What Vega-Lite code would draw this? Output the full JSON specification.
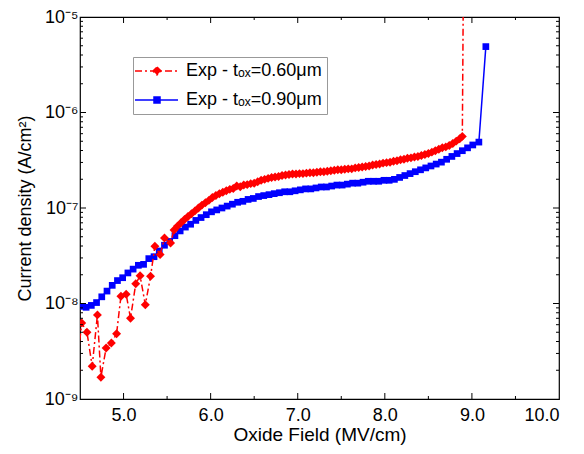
{
  "$schema": "https://vega.github.io/schema/vega-lite/v6.json",
  "width": 479,
  "height": 382,
  "padding": {"left": 16, "top": 8, "right": 20, "bottom": 5},
  "background": "white",
  "config": {
    "view": {"stroke": "#000", "strokeWidth": 1.2, "fill": "transparent"},
    "font": "Liberation Sans",
    "axis": {"domain": false, "ticks": false, "tickSize": 0, "labelColor": "#000", "titleColor": "#000", "labelFont": "Liberation Sans", "titleFont": "Liberation Sans", "labelFontSize": 18, "titleFontSize": 18, "titleFontWeight": "normal", "grid": false}
  },
  "datasets": {
    "xmajor": [{"v": 5}, {"v": 6}, {"v": 7}, {"v": 8}, {"v": 9}],
    "xminor": [{"v": 5.5}, {"v": 6.5}, {"v": 7.5}, {"v": 8.5}, {"v": 9.5}],
    "ymajor": [{"v": 1e-8}, {"v": 1e-7}, {"v": 1e-6}],
    "yminor": [{"v": 2e-9}, {"v": 3e-9}, {"v": 4e-9}, {"v": 5e-9}, {"v": 6e-9}, {"v": 7e-9}, {"v": 8e-9}, {"v": 9e-9}, {"v": 2e-8}, {"v": 3e-8}, {"v": 4e-8}, {"v": 5e-8}, {"v": 6e-8}, {"v": 7e-8}, {"v": 8e-8}, {"v": 9e-8}, {"v": 2e-7}, {"v": 3e-7}, {"v": 4e-7}, {"v": 5e-7}, {"v": 6e-7}, {"v": 7e-7}, {"v": 8e-7}, {"v": 9e-7}, {"v": 2e-6}, {"v": 3e-6}, {"v": 4e-6}, {"v": 5e-6}, {"v": 6e-6}, {"v": 7e-6}, {"v": 8e-6}, {"v": 9e-6}],
    "t060": [
      {"series": "0.60", "field": 4.46, "current": 2.0e-9},
      {"series": "0.60", "field": 4.52, "current": 6.25e-9},
      {"series": "0.60", "field": 4.58, "current": 5.0e-9},
      {"series": "0.60", "field": 4.64, "current": 2.2e-9},
      {"series": "0.60", "field": 4.70, "current": 7.6e-9},
      {"series": "0.60", "field": 4.74, "current": 1.69e-9},
      {"series": "0.60", "field": 4.80, "current": 3.42e-9},
      {"series": "0.60", "field": 4.86, "current": 3.86e-9},
      {"series": "0.60", "field": 4.92, "current": 4.83e-9},
      {"series": "0.60", "field": 4.97, "current": 1.19e-8},
      {"series": "0.60", "field": 5.03, "current": 1.25e-8},
      {"series": "0.60", "field": 5.08, "current": 7.0e-9},
      {"series": "0.60", "field": 5.14, "current": 1.61e-8},
      {"series": "0.60", "field": 5.19, "current": 1.95e-8},
      {"series": "0.60", "field": 5.25, "current": 9.7e-9},
      {"series": "0.60", "field": 5.31, "current": 1.93e-8},
      {"series": "0.60", "field": 5.36, "current": 3.97e-8},
      {"series": "0.60", "field": 5.42, "current": 3.25e-8},
      {"series": "0.60", "field": 5.47, "current": 4.85e-8},
      {"series": "0.60", "field": 5.54, "current": 4.30e-8},
      {"series": "0.60", "field": 5.58, "current": 5.89e-8},
      {"series": "0.60", "field": 5.62, "current": 6.46e-8},
      {"series": "0.60", "field": 5.66, "current": 7.0e-8},
      {"series": "0.60", "field": 5.70, "current": 7.59e-8},
      {"series": "0.60", "field": 5.74, "current": 8.13e-8},
      {"series": "0.60", "field": 5.78, "current": 8.71e-8},
      {"series": "0.60", "field": 5.82, "current": 9.33e-8},
      {"series": "0.60", "field": 5.86, "current": 1.0e-7},
      {"series": "0.60", "field": 5.90, "current": 1.072e-7},
      {"series": "0.60", "field": 5.94, "current": 1.135e-7},
      {"series": "0.60", "field": 5.98, "current": 1.202e-7},
      {"series": "0.60", "field": 6.02, "current": 1.288e-7},
      {"series": "0.60", "field": 6.06, "current": 1.349e-7},
      {"series": "0.60", "field": 6.10, "current": 1.413e-7},
      {"series": "0.60", "field": 6.14, "current": 1.462e-7},
      {"series": "0.60", "field": 6.18, "current": 1.514e-7},
      {"series": "0.60", "field": 6.22, "current": 1.567e-7},
      {"series": "0.60", "field": 6.26, "current": 1.603e-7},
      {"series": "0.60", "field": 6.30, "current": 1.70e-7},
      {"series": "0.60", "field": 6.34, "current": 1.67e-7},
      {"series": "0.60", "field": 6.38, "current": 1.738e-7},
      {"series": "0.60", "field": 6.42, "current": 1.758e-7},
      {"series": "0.60", "field": 6.46, "current": 1.799e-7},
      {"series": "0.60", "field": 6.50, "current": 1.820e-7},
      {"series": "0.60", "field": 6.54, "current": 1.884e-7},
      {"series": "0.60", "field": 6.58, "current": 1.950e-7},
      {"series": "0.60", "field": 6.62, "current": 1.995e-7},
      {"series": "0.60", "field": 6.66, "current": 2.042e-7},
      {"series": "0.60", "field": 6.70, "current": 2.089e-7},
      {"series": "0.60", "field": 6.74, "current": 2.113e-7},
      {"series": "0.60", "field": 6.78, "current": 2.138e-7},
      {"series": "0.60", "field": 6.82, "current": 2.188e-7},
      {"series": "0.60", "field": 6.86, "current": 2.213e-7},
      {"series": "0.60", "field": 6.90, "current": 2.239e-7},
      {"series": "0.60", "field": 6.94, "current": 2.265e-7},
      {"series": "0.60", "field": 6.98, "current": 2.265e-7},
      {"series": "0.60", "field": 7.02, "current": 2.291e-7},
      {"series": "0.60", "field": 7.06, "current": 2.291e-7},
      {"series": "0.60", "field": 7.10, "current": 2.317e-7},
      {"series": "0.60", "field": 7.14, "current": 2.344e-7},
      {"series": "0.60", "field": 7.18, "current": 2.344e-7},
      {"series": "0.60", "field": 7.22, "current": 2.371e-7},
      {"series": "0.60", "field": 7.26, "current": 2.399e-7},
      {"series": "0.60", "field": 7.30, "current": 2.399e-7},
      {"series": "0.60", "field": 7.34, "current": 2.427e-7},
      {"series": "0.60", "field": 7.38, "current": 2.455e-7},
      {"series": "0.60", "field": 7.42, "current": 2.483e-7},
      {"series": "0.60", "field": 7.46, "current": 2.512e-7},
      {"series": "0.60", "field": 7.50, "current": 2.512e-7},
      {"series": "0.60", "field": 7.54, "current": 2.541e-7},
      {"series": "0.60", "field": 7.58, "current": 2.570e-7},
      {"series": "0.60", "field": 7.62, "current": 2.570e-7},
      {"series": "0.60", "field": 7.66, "current": 2.630e-7},
      {"series": "0.60", "field": 7.70, "current": 2.661e-7},
      {"series": "0.60", "field": 7.74, "current": 2.692e-7},
      {"series": "0.60", "field": 7.78, "current": 2.723e-7},
      {"series": "0.60", "field": 7.82, "current": 2.754e-7},
      {"series": "0.60", "field": 7.86, "current": 2.818e-7},
      {"series": "0.60", "field": 7.90, "current": 2.851e-7},
      {"series": "0.60", "field": 7.94, "current": 2.884e-7},
      {"series": "0.60", "field": 7.98, "current": 2.951e-7},
      {"series": "0.60", "field": 8.02, "current": 2.985e-7},
      {"series": "0.60", "field": 8.06, "current": 3.020e-7},
      {"series": "0.60", "field": 8.10, "current": 3.090e-7},
      {"series": "0.60", "field": 8.14, "current": 3.126e-7},
      {"series": "0.60", "field": 8.18, "current": 3.199e-7},
      {"series": "0.60", "field": 8.22, "current": 3.236e-7},
      {"series": "0.60", "field": 8.26, "current": 3.311e-7},
      {"series": "0.60", "field": 8.30, "current": 3.350e-7},
      {"series": "0.60", "field": 8.34, "current": 3.428e-7},
      {"series": "0.60", "field": 8.38, "current": 3.467e-7},
      {"series": "0.60", "field": 8.42, "current": 3.548e-7},
      {"series": "0.60", "field": 8.46, "current": 3.631e-7},
      {"series": "0.60", "field": 8.50, "current": 3.715e-7},
      {"series": "0.60", "field": 8.54, "current": 3.846e-7},
      {"series": "0.60", "field": 8.58, "current": 3.981e-7},
      {"series": "0.60", "field": 8.62, "current": 4.121e-7},
      {"series": "0.60", "field": 8.66, "current": 4.266e-7},
      {"series": "0.60", "field": 8.70, "current": 4.365e-7},
      {"series": "0.60", "field": 8.74, "current": 4.519e-7},
      {"series": "0.60", "field": 8.78, "current": 4.732e-7},
      {"series": "0.60", "field": 8.82, "current": 5.012e-7},
      {"series": "0.60", "field": 8.86, "current": 5.309e-7},
      {"series": "0.60", "field": 8.89, "current": 5.623e-7},
      {"series": "0.60", "field": 8.90, "current": 1.2e-5}
    ],
    "t090": [
      {"series": "0.90", "field": 4.51, "current": 9.33e-9},
      {"series": "0.90", "field": 4.57, "current": 9.12e-9},
      {"series": "0.90", "field": 4.63, "current": 9.55e-9},
      {"series": "0.90", "field": 4.69, "current": 1.023e-8},
      {"series": "0.90", "field": 4.75, "current": 1.175e-8},
      {"series": "0.90", "field": 4.81, "current": 1.349e-8},
      {"series": "0.90", "field": 4.87, "current": 1.549e-8},
      {"series": "0.90", "field": 4.93, "current": 1.738e-8},
      {"series": "0.90", "field": 4.99, "current": 1.862e-8},
      {"series": "0.90", "field": 5.05, "current": 2.089e-8},
      {"series": "0.90", "field": 5.11, "current": 2.291e-8},
      {"series": "0.90", "field": 5.17, "current": 2.512e-8},
      {"series": "0.90", "field": 5.23, "current": 2.570e-8},
      {"series": "0.90", "field": 5.29, "current": 2.951e-8},
      {"series": "0.90", "field": 5.35, "current": 3.090e-8},
      {"series": "0.90", "field": 5.41, "current": 3.548e-8},
      {"series": "0.90", "field": 5.47, "current": 4.074e-8},
      {"series": "0.90", "field": 5.53, "current": 4.467e-8},
      {"series": "0.90", "field": 5.59, "current": 5.129e-8},
      {"series": "0.90", "field": 5.65, "current": 5.754e-8},
      {"series": "0.90", "field": 5.71, "current": 6.310e-8},
      {"series": "0.90", "field": 5.77, "current": 6.761e-8},
      {"series": "0.90", "field": 5.83, "current": 7.413e-8},
      {"series": "0.90", "field": 5.89, "current": 7.943e-8},
      {"series": "0.90", "field": 5.95, "current": 8.511e-8},
      {"series": "0.90", "field": 6.01, "current": 9.120e-8},
      {"series": "0.90", "field": 6.07, "current": 9.550e-8},
      {"series": "0.90", "field": 6.13, "current": 1.0e-7},
      {"series": "0.90", "field": 6.19, "current": 1.047e-7},
      {"series": "0.90", "field": 6.25, "current": 1.096e-7},
      {"series": "0.90", "field": 6.31, "current": 1.148e-7},
      {"series": "0.90", "field": 6.37, "current": 1.175e-7},
      {"series": "0.90", "field": 6.43, "current": 1.230e-7},
      {"series": "0.90", "field": 6.49, "current": 1.259e-7},
      {"series": "0.90", "field": 6.55, "current": 1.318e-7},
      {"series": "0.90", "field": 6.61, "current": 1.349e-7},
      {"series": "0.90", "field": 6.67, "current": 1.380e-7},
      {"series": "0.90", "field": 6.73, "current": 1.413e-7},
      {"series": "0.90", "field": 6.79, "current": 1.445e-7},
      {"series": "0.90", "field": 6.85, "current": 1.479e-7},
      {"series": "0.90", "field": 6.91, "current": 1.479e-7},
      {"series": "0.90", "field": 6.97, "current": 1.514e-7},
      {"series": "0.90", "field": 7.03, "current": 1.549e-7},
      {"series": "0.90", "field": 7.09, "current": 1.585e-7},
      {"series": "0.90", "field": 7.15, "current": 1.585e-7},
      {"series": "0.90", "field": 7.21, "current": 1.622e-7},
      {"series": "0.90", "field": 7.27, "current": 1.660e-7},
      {"series": "0.90", "field": 7.33, "current": 1.660e-7},
      {"series": "0.90", "field": 7.39, "current": 1.698e-7},
      {"series": "0.90", "field": 7.45, "current": 1.738e-7},
      {"series": "0.90", "field": 7.51, "current": 1.738e-7},
      {"series": "0.90", "field": 7.57, "current": 1.778e-7},
      {"series": "0.90", "field": 7.63, "current": 1.820e-7},
      {"series": "0.90", "field": 7.69, "current": 1.820e-7},
      {"series": "0.90", "field": 7.75, "current": 1.862e-7},
      {"series": "0.90", "field": 7.81, "current": 1.905e-7},
      {"series": "0.90", "field": 7.87, "current": 1.905e-7},
      {"series": "0.90", "field": 7.93, "current": 1.905e-7},
      {"series": "0.90", "field": 7.99, "current": 1.950e-7},
      {"series": "0.90", "field": 8.05, "current": 1.950e-7},
      {"series": "0.90", "field": 8.11, "current": 1.995e-7},
      {"series": "0.90", "field": 8.17, "current": 2.089e-7},
      {"series": "0.90", "field": 8.23, "current": 2.188e-7},
      {"series": "0.90", "field": 8.29, "current": 2.291e-7},
      {"series": "0.90", "field": 8.35, "current": 2.399e-7},
      {"series": "0.90", "field": 8.41, "current": 2.512e-7},
      {"series": "0.90", "field": 8.47, "current": 2.630e-7},
      {"series": "0.90", "field": 8.53, "current": 2.754e-7},
      {"series": "0.90", "field": 8.59, "current": 2.884e-7},
      {"series": "0.90", "field": 8.65, "current": 3.020e-7},
      {"series": "0.90", "field": 8.71, "current": 3.236e-7},
      {"series": "0.90", "field": 8.77, "current": 3.467e-7},
      {"series": "0.90", "field": 8.83, "current": 3.715e-7},
      {"series": "0.90", "field": 8.89, "current": 3.981e-7},
      {"series": "0.90", "field": 8.95, "current": 4.266e-7},
      {"series": "0.90", "field": 9.01, "current": 4.571e-7},
      {"series": "0.90", "field": 9.08, "current": 4.898e-7},
      {"series": "0.90", "field": 9.16, "current": 4.898e-6}
    ]
  },
  "layer": [
    {
      "data": {"name": "t090"},
      "mark": {"type": "line", "color": "#0000ff", "strokeWidth": 1.5, "clip": true},
      "encoding": {
        "x": {"field": "field", "type": "quantitative", "scale": {"domain": [4.5, 10], "nice": false, "zero": false},
          "axis": {"orient": "bottom", "values": [5, 6, 7, 8, 9, 10], "labelPadding": 7, "title": "Oxide Field (MV/cm)", "titleFontSize": 19, "titlePadding": 1}},
        "y": {"field": "current", "type": "quantitative", "scale": {"type": "log", "domain": [1e-9, 1e-5], "nice": false},
          "axis": {"orient": "left", "values": [1e-9, 1e-8, 1e-7, 1e-6, 1e-5], "labelPadding": 2,
            "labelExpr": "'10' + (datum.value < 5e-9 ? '⁻⁹' : datum.value < 5e-8 ? '⁻⁸' : datum.value < 5e-7 ? '⁻⁷' : datum.value < 5e-6 ? '⁻⁶' : '⁻⁵')",
            "title": "Current density (A/cm²)", "titlePadding": 10}}
      }
    },
    {
      "data": {"name": "t090"},
      "mark": {"type": "point", "shape": "square", "filled": true, "color": "#0000ff", "size": 45, "opacity": 1, "clip": true},
      "encoding": {
        "x": {"field": "field", "type": "quantitative"},
        "y": {"field": "current", "type": "quantitative"}
      }
    },
    {
      "data": {"name": "t060"},
      "mark": {"type": "line", "color": "#ff0000", "strokeWidth": 1.5, "strokeDash": [7, 3, 2, 3], "clip": true},
      "encoding": {
        "x": {"field": "field", "type": "quantitative"},
        "y": {"field": "current", "type": "quantitative"}
      }
    },
    {
      "data": {"name": "t060"},
      "mark": {"type": "point", "shape": "diamond", "filled": true, "color": "#ff0000", "size": 80, "opacity": 1, "clip": true},
      "encoding": {
        "x": {"field": "field", "type": "quantitative"},
        "y": {"field": "current", "type": "quantitative"}
      }
    },
    {
      "data": {"name": "xmajor"},
      "mark": {"type": "tick", "orient": "vertical", "color": "#000", "size": 12, "thickness": 1, "opacity": 1, "clip": true},
      "encoding": {"x": {"field": "v", "type": "quantitative"}, "y": {"datum": 1e-9, "type": "quantitative"}}
    },
    {
      "data": {"name": "xmajor"},
      "mark": {"type": "tick", "orient": "vertical", "color": "#000", "size": 12, "thickness": 1, "opacity": 1, "clip": true},
      "encoding": {"x": {"field": "v", "type": "quantitative"}, "y": {"datum": 1e-5, "type": "quantitative"}}
    },
    {
      "data": {"name": "xminor"},
      "mark": {"type": "tick", "orient": "vertical", "color": "#000", "size": 6, "thickness": 1, "opacity": 1, "clip": true},
      "encoding": {"x": {"field": "v", "type": "quantitative"}, "y": {"datum": 1e-9, "type": "quantitative"}}
    },
    {
      "data": {"name": "xminor"},
      "mark": {"type": "tick", "orient": "vertical", "color": "#000", "size": 6, "thickness": 1, "opacity": 1, "clip": true},
      "encoding": {"x": {"field": "v", "type": "quantitative"}, "y": {"datum": 1e-5, "type": "quantitative"}}
    },
    {
      "data": {"name": "ymajor"},
      "mark": {"type": "tick", "orient": "horizontal", "color": "#000", "size": 12, "thickness": 1, "opacity": 1, "clip": true},
      "encoding": {"y": {"field": "v", "type": "quantitative"}, "x": {"datum": 4.5, "type": "quantitative"}}
    },
    {
      "data": {"name": "ymajor"},
      "mark": {"type": "tick", "orient": "horizontal", "color": "#000", "size": 12, "thickness": 1, "opacity": 1, "clip": true},
      "encoding": {"y": {"field": "v", "type": "quantitative"}, "x": {"datum": 10, "type": "quantitative"}}
    },
    {
      "data": {"name": "yminor"},
      "mark": {"type": "tick", "orient": "horizontal", "color": "#000", "size": 6, "thickness": 1, "opacity": 1, "clip": true},
      "encoding": {"y": {"field": "v", "type": "quantitative"}, "x": {"datum": 4.5, "type": "quantitative"}}
    },
    {
      "data": {"name": "yminor"},
      "mark": {"type": "tick", "orient": "horizontal", "color": "#000", "size": 6, "thickness": 1, "opacity": 1, "clip": true},
      "encoding": {"y": {"field": "v", "type": "quantitative"}, "x": {"datum": 10, "type": "quantitative"}}
    },
    {
      "data": {"name": "t060"},
      "mark": {"type": "point", "filled": true, "opacity": 0},
      "encoding": {
        "color": {"field": "series", "type": "nominal", "scale": {"domain": ["0.60", "0.90"], "range": ["#ff0000", "#0000ff"]},
          "legend": {"orient": "none", "legendX": 53, "legendY": 40, "title": null, "padding": 5, "strokeColor": "#999", "rowPadding": 11,
            "labelFont": "Liberation Sans", "labelFontSize": 18, "labelColor": "#000", "labelOffset": 30, "symbolSize": 100,
            "labelExpr": "'Exp - tₒₓ=' + datum.label + 'μm'",
            "encode": {"symbols": {"update": {"opacity": {"value": 1}, "stroke": {"scale": "color", "field": "value"}, "strokeWidth": {"value": 1.5}, "strokeDash": {"signal": "datum.value == '0.60' ? [7, 3, 2, 3] : []"}}}}}},
        "shape": {"field": "series", "type": "nominal", "scale": {"domain": ["0.60", "0.90"], "range": ["M-2.4,0H6.2M2,-0.8L2.8,0L2,0.8L1.2,0Z", "M-2.4,0H6.2M1.4,-0.6H2.6V0.6H1.4Z"]}}
      }
    }
  ]
}
